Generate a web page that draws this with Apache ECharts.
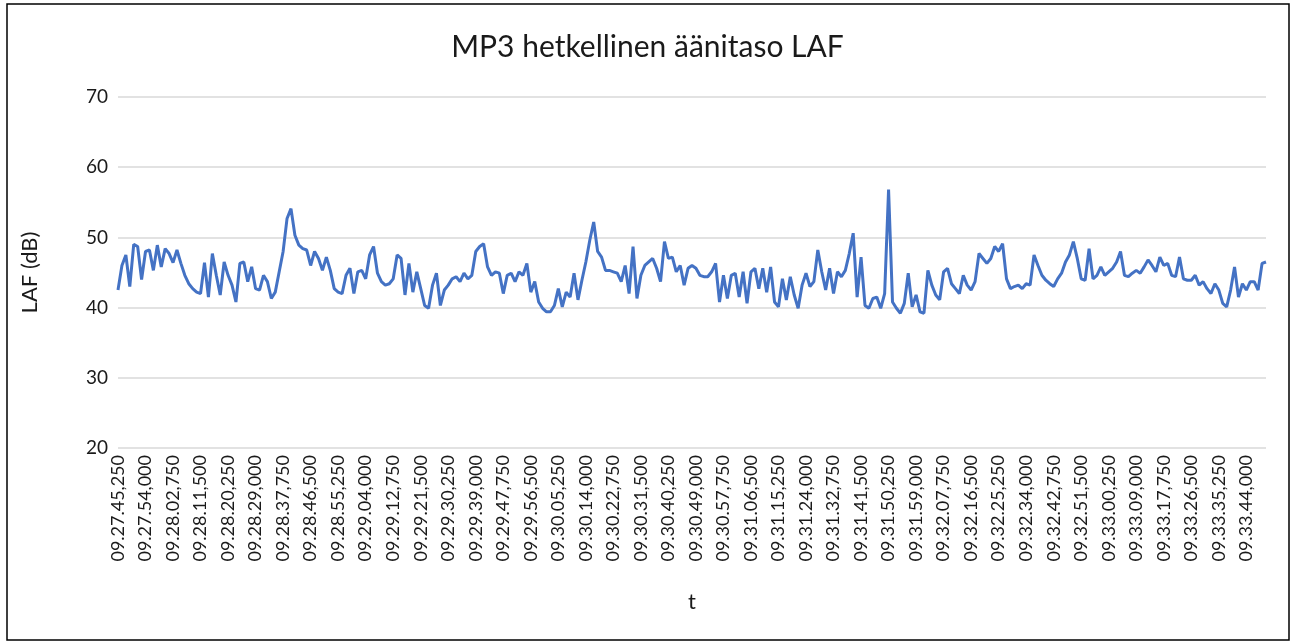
<!DOCTYPE html>
<html>
<head>
<meta charset="utf-8">
<title>MP3 hetkellinen äänitaso LAF</title>
<script src="https://cdn.jsdelivr.net/npm/echarts@6/dist/echarts.min.js"></script>
<style>
  html, body { margin: 0; padding: 0; background: #fff; }
  #chart { width: 1295px; height: 644px; }
</style>
</head>
<body>
<div id="chart"></div>
<script>
// mittaus alkaa 09.27.45,250, näyte 1,25 s välein
const startSec = 9 * 3600 + 27 * 60 + 45.25
const stepSec = 1.25
const yTicks = [20, 30, 40, 50, 60, 70]

// LAF (dB), luettu kuvasta
const laf = [
  42.5, 46.0, 47.5, 43.0, 49.0, 48.7, 44.0, 48.0, 48.2, 45.3,
  48.9, 45.8, 48.4, 47.7, 46.4, 48.2, 46.3, 44.6, 43.4, 42.7,
  42.2, 42.0, 46.4, 41.5, 47.7, 44.6, 41.8, 46.5, 44.6, 43.2,
  40.8, 46.3, 46.5, 43.7, 45.8, 42.7, 42.5, 44.6, 43.7, 41.3,
  42.2, 45.1, 48.0, 52.7, 54.1, 50.3, 48.9, 48.4, 48.2, 46.0,
  48.0, 47.0, 45.3, 47.2, 45.3, 42.7, 42.2, 42.0, 44.6, 45.6,
  42.0, 45.1, 45.3, 44.1, 47.5, 48.7, 44.9, 43.7, 43.2, 43.4,
  44.1, 47.5, 47.0, 41.8, 46.3, 42.2, 45.1, 42.7, 40.3, 39.9,
  43.2, 44.9, 40.3, 42.5, 43.2, 44.1, 44.4, 43.7, 44.9, 44.1,
  44.6, 48.0, 48.7, 49.1, 45.8, 44.6, 45.1, 44.9, 42.0, 44.6,
  44.9, 43.7, 45.1, 44.6, 46.3, 42.2, 43.7, 40.8, 39.9, 39.4,
  39.4, 40.3, 42.7, 40.1, 42.2, 41.5, 44.9, 41.1, 43.9, 46.5,
  49.6, 52.2, 48.0, 47.2, 45.3, 45.3, 45.1, 44.9, 43.7, 46.0,
  42.0, 48.7, 41.3, 44.6, 46.0, 46.5, 47.0, 45.6, 43.7, 49.4,
  47.0, 47.2, 45.1, 46.0, 43.2, 45.6, 46.0, 45.6, 44.6, 44.4,
  44.4, 45.1, 46.3, 40.8, 44.6, 41.3, 44.6, 44.9, 41.5, 45.1,
  40.6, 45.1, 45.6, 42.7, 45.6, 42.2, 45.8, 40.8, 40.1, 44.1,
  41.1, 44.4, 41.8, 39.9, 43.2, 44.9, 43.0, 43.7, 48.2, 45.1,
  42.5, 45.6, 42.0, 45.1, 44.4, 45.3, 47.7, 50.6, 41.5, 47.2,
  40.3, 39.9, 41.3, 41.5, 39.9, 42.0, 56.8, 40.8, 39.9, 39.2,
  40.6, 44.9, 40.1, 41.8, 39.4, 39.2, 45.3, 43.2, 41.8, 41.1,
  45.1, 45.6, 43.4, 42.7, 42.0, 44.6, 43.2, 42.5, 43.7, 47.7,
  47.0, 46.3, 47.0, 48.7, 48.0, 49.1, 44.1, 42.7, 43.0, 43.2,
  42.7, 43.4, 43.2, 47.5, 46.0, 44.6, 43.9, 43.4, 43.0, 44.1,
  44.9, 46.5, 47.5, 49.4, 47.0, 44.1, 43.9, 48.4, 44.1, 44.6,
  45.8, 44.6, 45.1, 45.6, 46.5, 48.0, 44.6, 44.4, 44.9, 45.3,
  44.9, 45.8, 46.8, 46.0, 45.1, 47.2, 46.0, 46.3, 44.6, 44.4,
  47.2, 44.1, 43.9, 43.9, 44.6, 43.2, 43.7, 42.7, 42.0, 43.4,
  42.5, 40.6, 40.1, 42.5, 45.8, 41.5, 43.4, 42.5, 43.7, 43.7,
  42.5, 46.3, 46.5
]

function pad(n, w) {
  return String(n).padStart(w, '0')
}

// aikaleimat muodossa 09.27.45,250
const times = laf.map((v, i) => {
  const ms = Math.round((startSec + i * stepSec) * 1000)
  const h = Math.floor(ms / 3600000)
  const m = Math.floor(ms / 60000) % 60
  const s = Math.floor(ms / 1000) % 60
  return pad(h, 2) + '.' + pad(m, 2) + '.' + pad(s, 2) + ',' + pad(ms % 1000, 3)
})

const font = 'Lato, "Open Sans", sans-serif'
const chart = echarts.init(document.getElementById('chart'))
chart.setOption({
  animation: false,
  textStyle: { fontFamily: font },
  title: {
    text: 'MP3 hetkellinen äänitaso LAF',
    left: 'center',
    top: 27,
    textStyle: { fontFamily: font, fontSize: 30, fontWeight: 'normal', color: '#1a1a1a' }
  },
  graphic: [{
    type: 'rect',
    shape: { x: 7, y: 4, width: 1282, height: 636 },
    style: { fill: 'none', stroke: '#000', lineWidth: 1.5 },
    silent: true
  }],
  grid: { left: 118, right: 29, top: 97, bottom: 196 },
  xAxis: {
    type: 'category',
    data: times,
    boundaryGap: false,
    name: 't',
    nameLocation: 'middle',
    nameGap: 143,
    nameTextStyle: { fontFamily: font, fontSize: 22, color: '#1a1a1a' },
    axisLine: { show: false },
    axisTick: { show: false },
    axisLabel: {
      interval: 6,
      rotate: 90,
      margin: 7,
      fontFamily: font,
      fontSize: 18,
      color: '#1a1a1a'
    }
  },
  yAxis: {
    type: 'value',
    min: yTicks[0],
    max: yTicks[yTicks.length - 1],
    interval: 10,
    name: 'LAF (dB)',
    nameLocation: 'middle',
    nameRotate: 90,
    nameGap: 77,
    nameTextStyle: { fontFamily: font, fontSize: 22, color: '#1a1a1a' },
    axisLine: { show: false },
    axisTick: { show: false },
    axisLabel: { margin: 10, fontFamily: font, fontSize: 19, color: '#1a1a1a' },
    splitLine: { lineStyle: { color: '#d9d9d9', width: 1.5 } }
  },
  series: [{
    name: 'LAF',
    type: 'line',
    data: laf,
    showSymbol: false,
    lineStyle: { color: '#4472c4', width: 3 },
    itemStyle: { color: '#4472c4' }
  }]
})
</script>
</body>
</html>
